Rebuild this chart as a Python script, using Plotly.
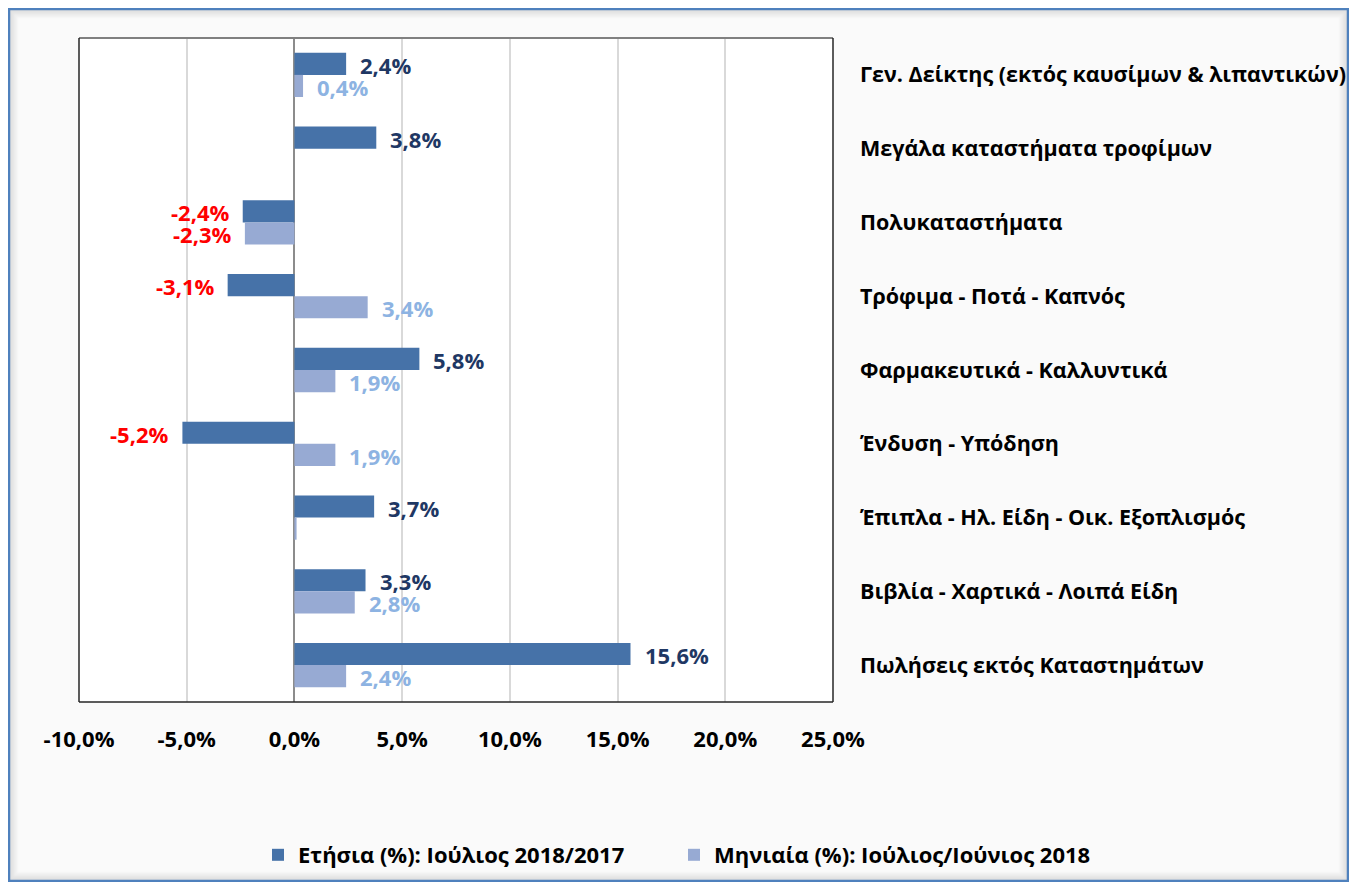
import plotly.graph_objects as go

categories = [
    "Γεν. Δείκτης (εκτός καυσίμων & λιπαντικών)",
    "Μεγάλα καταστήματα τροφίμων",
    "Πολυκαταστήματα",
    "Τρόφιμα - Ποτά - Καπνός",
    "Φαρμακευτικά - Καλλυντικά",
    "Ένδυση - Υπόδηση",
    "Έπιπλα - Ηλ. Είδη - Οικ. Εξοπλισμός",
    "Βιβλία - Χαρτικά - Λοιπά Είδη",
    "Πωλήσεις εκτός Καταστημάτων",
]
annual = [2.4, 3.8, -2.4, -3.1, 5.8, -5.2, 3.7, 3.3, 15.6]
monthly = [0.4, 0.0, -2.3, 3.4, 1.9, 1.9, 0.1, 2.8, 2.4]
series_names = ["Ετήσια (%): Ιούλιος 2018/2017", "Μηνιαία (%): Ιούλιος/Ιούνιος 2018"]
x_ticks = [-10, -5, 0, 5, 10, 15, 20, 25]
x_tick_labels = ["-10,0%", "-5,0%", "0,0%", "5,0%", "10,0%", "15,0%", "20,0%", "25,0%"]

FONT = "Open Sans"
W, H = 1341, 874
L, R, T, B = 71, 825, 30, 694  # plot area in figure pixels
PW, PH = R - L, B - T


def px2x(px):
    return (px - L) / PW


def py2y(py):
    return (B - py) / PH


def fmt(v):
    return f"{v:.1f}".replace(".", ",") + "%"


fig = go.Figure()
fig.add_trace(go.Bar(y=categories, x=annual, orientation="h", name=series_names[0],
                     marker=dict(color="#4672A8", line=dict(width=0)),
                     legend="legend", showlegend=True))
fig.add_trace(go.Bar(y=categories, x=monthly, orientation="h", name=series_names[1],
                     marker=dict(color="#97AAD3", line=dict(width=0)),
                     legend="legend2", showlegend=True))

annotations = []
for vals, yshift, pos_color in ((annual, 11, "#1F3864"), (monthly, -11, "#8DB3E2")):
    for cat, v in zip(categories, vals):
        if abs(v) < 0.3:
            continue
        neg = v < 0
        annotations.append(dict(
            x=v, y=cat, xref="x", yref="y", text=fmt(v), showarrow=False,
            xanchor="right" if neg else "left", xshift=-11 if neg else 12, yshift=yshift - 1,
            font=dict(family=FONT, size=22, color="#FF0000" if neg else pos_color, weight="bold"),
        ))

shapes = []
# inner shadow of frame
for i in range(1, 10):
    a = 0.13 * (1 - i / 10)
    shapes.append(dict(type="rect", xref="paper", yref="paper",
                       x0=px2x(1 + i), x1=px2x(W - 1 - i), y0=py2y(1 + i), y1=py2y(H - 1 - i),
                       line=dict(color=f"rgba(0,0,0,{a:.3f})", width=1), layer="below"))
# blue frame
shapes.append(dict(type="rect", xref="paper", yref="paper",
                   x0=px2x(1), x1=px2x(W - 1), y0=py2y(1), y1=py2y(H - 1),
                   line=dict(color="#4F81BD", width=2.5)))
# plot border
shapes.append(dict(type="line", xref="paper", yref="paper", x0=0, x1=1, y0=1, y1=1,
                   line=dict(color="#808080", width=2)))
for x0, y0, x1, y1 in ((0, 0, 0, 1), (1, 0, 1, 1), (0, 0, 1, 0)):
    shapes.append(dict(type="line", xref="paper", yref="paper", x0=x0, x1=x1, y0=y0, y1=y1,
                       line=dict(color="#262626", width=1.5)))

legend_font = dict(family=FONT, size=22, color="#000000", weight="bold")

fig.update_layout(
    width=W, height=H, showlegend=True,
    margin=dict(l=L, r=W - R, t=T, b=H - B, pad=0, autoexpand=False),
    paper_bgcolor="#FAFAFA", plot_bgcolor="#FFFFFF",
    barmode="group", bargap=0.4, bargroupgap=0,
    font=dict(family=FONT, color="#000000"),
    xaxis=dict(range=[-10, 25], tickvals=x_ticks, ticktext=x_tick_labels,
               showgrid=True, gridcolor="#D9D9D9", gridwidth=1.5,
               zeroline=True, zerolinecolor="#8C8C8C", zerolinewidth=2,
               showline=False, ticks="", ticklabelstandoff=22,
               tickfont=dict(family=FONT, size=22, color="#000000", weight="bold")),
    yaxis=dict(type="category", categoryorder="array", categoryarray=categories,
               autorange="reversed", side="right", showgrid=False, zeroline=False,
               showline=False, ticks="", ticklabelstandoff=26,
               tickfont=dict(family=FONT, size=21.5, color="#000000", weight="bold")),
    legend=dict(orientation="h", x=px2x(250), xanchor="left", y=py2y(847), yanchor="middle",
                bgcolor="rgba(0,0,0,0)", font=legend_font, visible=True),
    legend2=dict(orientation="h", x=px2x(666), xanchor="left", y=py2y(847), yanchor="middle",
                 bgcolor="rgba(0,0,0,0)", font=legend_font, visible=True),
    annotations=annotations,
    shapes=shapes,
)

fig.write_html("out.html")
